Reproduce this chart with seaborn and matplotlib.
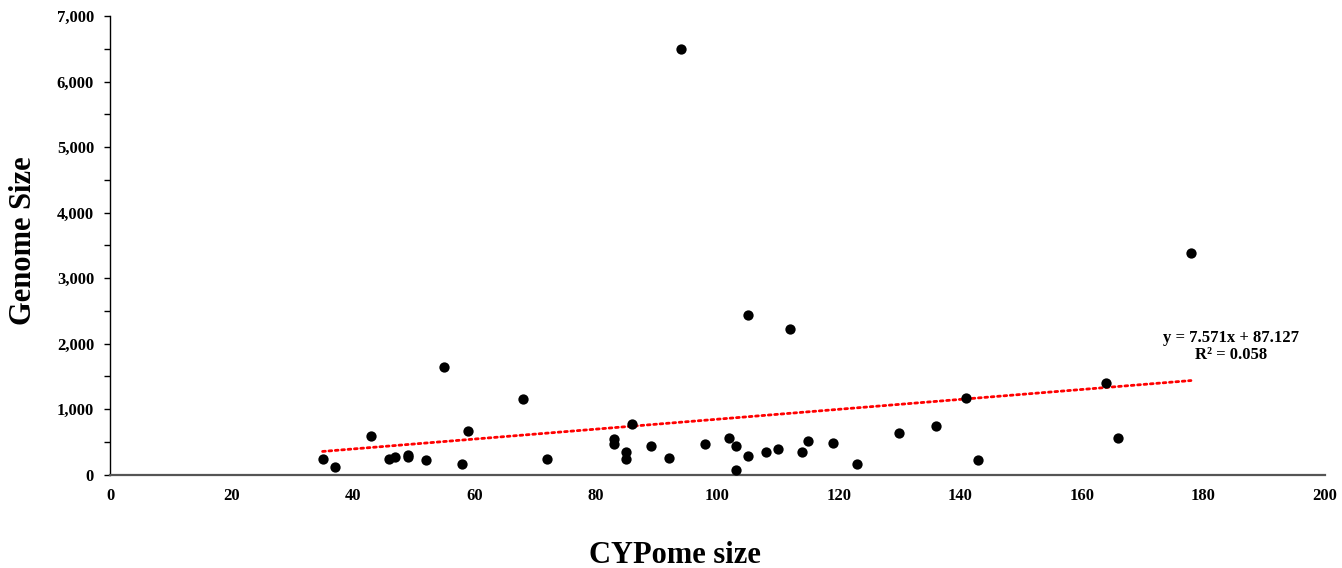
import numpy as np
import pandas as pd
import matplotlib
matplotlib.use("Agg")
import matplotlib.pyplot as plt
from matplotlib.ticker import MultipleLocator, FuncFormatter
import seaborn as sns

# CYPome size vs genome size
cypome_size = [35, 37, 43, 46, 47, 49, 49, 52, 55, 58, 59, 68, 72, 83, 83, 86, 85, 85,
               89, 92, 94, 105, 112, 98, 102, 103, 105, 103, 108, 110, 114, 115, 119,
               123, 130, 136, 141, 143, 178, 164, 166]
genome_size = [232, 119, 592, 241, 262, 302, 262, 226, 1637, 160, 664, 1153, 232, 542,
               466, 766, 344, 237, 440, 257, 6496, 2430, 2216, 461, 557, 435, 287, 73,
               348, 385, 348, 506, 476, 155, 629, 735, 1163, 221, 3386, 1392, 552]

# trendline as printed on the chart
slope = 7.571
intercept = 87.127
r2 = 0.058

df = pd.DataFrame({"CYPome size": cypome_size, "Genome Size": genome_size})

sns.set_style("white")
plt.rcParams["font.family"] = ["Liberation Serif", "DejaVu Serif"]
plt.rcParams["font.weight"] = "bold"
plt.rcParams["text.color"] = "black"
plt.rcParams["axes.labelcolor"] = "black"
plt.rcParams["xtick.color"] = "black"
plt.rcParams["ytick.color"] = "black"

fig = plt.figure(figsize=(13.42, 5.68), dpi=100)
ax = fig.add_axes([0.082, 0.1646, 0.905, 0.807])

sns.scatterplot(data=df, x="CYPome size", y="Genome Size", ax=ax,
                color="black", s=55, edgecolor="black", linewidth=0, zorder=3)

xs = np.array([min(cypome_size), max(cypome_size)])
ax.plot(xs, slope * xs + intercept, color="red", linestyle=(0, (1, 1.3)),
        linewidth=2.0, dash_capstyle="round", zorder=2)

ax.text(184.6, 1960, f"y = {slope:.3f}x + {intercept:.3f}\nR\u00b2 = {r2:.3f}",
        ha="center", va="center", fontsize=12, fontweight="bold",
        linespacing=1.1, color="black")

ax.set_xlim(0, 200)
ax.set_ylim(0, 7000)
ax.xaxis.set_major_locator(MultipleLocator(20))
ax.yaxis.set_major_locator(MultipleLocator(1000))
ax.yaxis.set_minor_locator(MultipleLocator(500))
ax.yaxis.set_major_formatter(FuncFormatter(lambda v, p: f"{int(v):,}"))

ax.tick_params(axis="y", which="both", direction="out", length=4.5, width=1,
               color="black", left=True, labelsize=12, pad=7)
ax.tick_params(axis="x", which="both", length=0, labelsize=12, pad=10)
for lab in ax.get_xticklabels() + ax.get_yticklabels():
    lab.set_fontweight("bold")

for side in ["top", "right"]:
    ax.spines[side].set_visible(False)
ax.spines["left"].set_color("black")
ax.spines["left"].set_linewidth(1.0)
ax.spines["bottom"].set_color("#555555")
ax.spines["bottom"].set_linewidth(1.6)

ax.set_xlabel("CYPome size", fontsize=22, fontweight="bold", color="black")
ax.set_ylabel("Genome Size", fontsize=22, fontweight="bold", color="black")
ax.xaxis.set_label_coords(0.4655, -0.144)
ax.yaxis.set_label_coords(-0.059, 0.51)

fig.savefig("out.png", dpi=100)
